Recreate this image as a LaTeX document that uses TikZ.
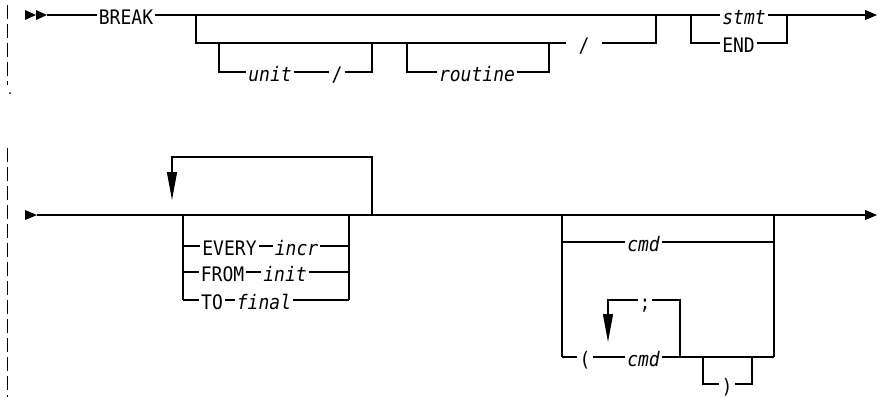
\documentclass[tikz,border=0pt]{standalone}
\usepackage{fontspec}
\newfontfamily\dmono[FakeStretch=0.9]{DejaVu Sans Mono}
\usetikzlibrary{arrows.meta}
\begin{document}
\begin{tikzpicture}[x=1pt,y=-1pt,line width=1.2pt,
  lbl/.style={inner xsep=1.5pt,inner ysep=0pt,text height=18pt,text depth=0pt,font=\dmono\fontsize{20}{22}\selectfont},
  var/.style={lbl,font=\dmono\itshape\fontsize{20}{22}\selectfont},
  tip/.style={-{Triangle[length=12pt,width=10pt]}},
  looptip/.style={-{Triangle[length=28pt,width=10pt]}},
  margin/.style={line width=0.8pt,dash pattern=on 14pt off 5pt}]
\useasboundingbox (0,0) rectangle (878,397);
% left margin
\draw[margin] (7,5) -- (7,85);
\draw[margin] (7,148) -- (7,397);
\fill (10,93) circle (1pt);
% ---------- row 1 ----------
\fill (25,10) -- (36,15) -- (25,20) -- cycle;
\fill (36,10) -- (47,15) -- (36,20) -- cycle;
\coordinate (s1) at (47,15);
\node[lbl] (brk) at (126,15) {BREAK};
\coordinate (j1) at (196,15);
\coordinate (j2) at (656,15);
\coordinate (j3) at (691,15);
\node[var] (stmt) at (744,15) {stmt};
\coordinate (j4) at (787,15);
\coordinate (e1) at (877,15);
\draw (s1) -- (brk);
\draw (brk) -- (stmt);
\draw[tip] (stmt) -- (e1);
% optional branch
\coordinate (b1) at (196,43);
\node[lbl,inner xsep=12pt] (sl2) at (584,43) {/};
\coordinate (b2) at (656,43);
\draw (j1) -- (b1) -- (sl2);
\draw (sl2) -- (b2) -- (j2);
% unit /
\coordinate (u0) at (219,43);
\coordinate (u1) at (219,72);
\node[var] (unit) at (270,72) {unit};
\node[lbl] (sl1) at (337,72) {/};
\coordinate (u2) at (372,72);
\coordinate (u3) at (372,43);
\draw (u0) -- (u1) -- (unit);
\draw (unit) -- (sl1);
\draw (sl1) -- (u2) -- (u3);
% routine
\coordinate (r0) at (407,43);
\coordinate (r1) at (407,72);
\node[var] (rout) at (477,72) {routine};
\coordinate (r2) at (549,72);
\coordinate (r3) at (549,43);
\draw (r0) -- (r1) -- (rout);
\draw (rout) -- (r2) -- (r3);
% stmt / END
\coordinate (k1) at (691,43);
\node[lbl] (end) at (738.5,43) {END};
\coordinate (k2) at (787,43);
\draw (j3) -- (k1) -- (end);
\draw (end) -- (k2) -- (j4);
% ---------- row 2 ----------
\fill (25,210) -- (37,215) -- (25,220) -- cycle;
\coordinate (s2) at (37,215);
\coordinate (e2) at (877,215);
\draw[tip] (s2) -- (e2);
% repeat loop
\coordinate (l1) at (372,215);
\coordinate (l2) at (372,157);
\coordinate (l3) at (172,157);
\coordinate (l4) at (172,200);
\draw[looptip] (l1) -- (l2) -- (l3) -- (l4);
% choice box 1
\coordinate (c0) at (183,215);
\coordinate (c1) at (183,300);
\coordinate (c2) at (349,215);
\coordinate (c3) at (349,300);
\draw (c0) -- (c1);
\draw (c2) -- (c3);
\coordinate (ev0) at (183,246);
\node[lbl] (every) at (229.5,246) {EVERY};
\node[var] (incr) at (296.5,246) {incr};
\coordinate (ev1) at (349,246);
\draw (ev0) -- (every);
\draw (every) -- (incr);
\draw (incr) -- (ev1);
\coordinate (fr0) at (183,272);
\node[lbl] (from) at (222.5,272) {FROM};
\node[var] (init) at (285,272) {init};
\coordinate (fr1) at (349,272);
\draw (fr0) -- (from);
\draw (from) -- (init);
\draw (init) -- (fr1);
\node[lbl] (to) at (212,300) {TO};
\node[var] (final) at (264,300) {final};
\draw (c1) -- (to);
\draw (to) -- (final);
\draw (final) -- (c3);
% choice box 2
\coordinate (d0) at (562,215);
\coordinate (d1) at (562,357);
\coordinate (d2) at (774,215);
\coordinate (d3) at (774,357);
\draw (d0) -- (d1);
\draw (d2) -- (d3);
\coordinate (cm0) at (562,242);
\node[var] (cmdA) at (643.5,242) {cmd};
\coordinate (cm1) at (774,242);
\draw (cm0) -- (cmdA);
\draw (cmdA) -- (cm1);
\node[lbl] (lp) at (585,357) {(};
\node[var] (cmdB) at (643.5,357) {cmd};
\coordinate (q0) at (680,357);
\draw (d1) -- (lp);
\draw (lp) -- (cmdB);
\draw (cmdB) -- (q0) -- (d3);
% ; loop
\coordinate (q1) at (680,300);
\node[lbl,inner xsep=1pt] (semi) at (645,300) {;};
\coordinate (q2) at (608,300);
\coordinate (q3) at (608,342);
\draw (q0) -- (q1) -- (semi);
\draw[looptip] (semi) -- (q2) -- (q3);
% optional )
\coordinate (p0) at (703,357);
\coordinate (p1) at (703,384);
\node[lbl] (rp) at (727,384) {)};
\coordinate (p2) at (752,384);
\coordinate (p3) at (752,357);
\draw (p0) -- (p1) -- (rp);
\draw (rp) -- (p2) -- (p3);
\end{tikzpicture}
\end{document}
